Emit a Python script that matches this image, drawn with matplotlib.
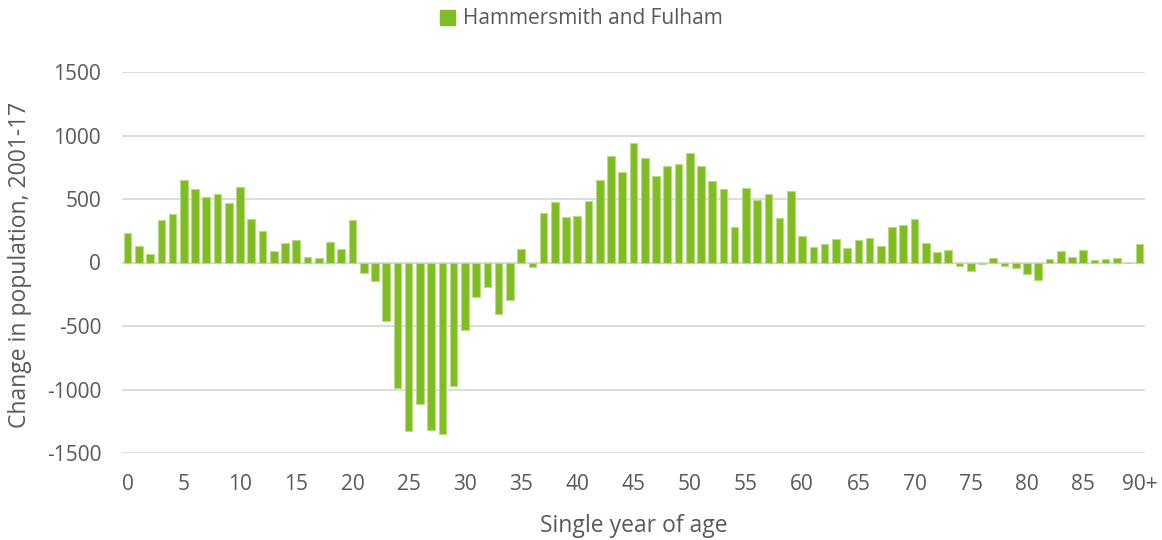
import matplotlib
matplotlib.use("Agg")
import matplotlib.pyplot as plt
from matplotlib.patches import Patch

ages = [str(a) for a in range(90)] + ["90+"]
change = [
    233, 127, 66, 333, 378, 653, 579, 516, 540, 466,
    598, 344, 246, 90, 153, 180, 42, 37, 164, 103,
    333, -84, -147, -463, -992, -1323, -1115, -1320, -1347, -973,
    -531, -274, -195, -402, -292, 103, -34, 391, 473, 360,
    368, 484, 653, 841, 714, 944, 820, 680, 756, 778,
    865, 756, 640, 579, 283, 590, 492, 542, 349, 561,
    211, 121, 142, 186, 117, 178, 189, 130, 277, 293,
    343, 157, 80, 101, -24, -66, -8, 37, -24, -43,
    -93, -141, 27, 90, 43, 101, 16, 24, 37, 0,
    149,
]
series_name = "Hammersmith and Fulham"
yticks = [-1500, -1000, -500, 0, 500, 1000, 1500]
xtick_every = 5

plt.rcParams['font.family'] = ['Open Sans', 'DejaVu Sans']
text_color = '#595959'
bar_color = '#80BC23'
edge_color = '#B8DC80'

fig = plt.figure(figsize=(11.62, 5.40), dpi=100)
ax = fig.add_axes([122/1162, 1 - 453/540, (1145-122)/1162, (453-72)/540])

x = list(range(len(ages)))
ax.bar(x, change, width=0.68, color=bar_color, edgecolor=edge_color, linewidth=0.8, zorder=3)

ax.set_xlim(-0.5, len(ages) - 0.5)
ax.set_ylim(-1500, 1500)
ax.set_yticks(yticks)
ax.set_yticklabels([str(v) for v in yticks])
tick_pos = [i for i in x if i % xtick_every == 0]
ax.set_xticks(tick_pos)
ax.set_xticklabels([ages[i] for i in tick_pos])

ax.grid(axis='y', color='#D9D9D9', linewidth=1.3, zorder=0)
ax.set_axisbelow(True)
for s in ax.spines.values():
    s.set_visible(False)
ax.tick_params(axis='both', length=0, labelsize=15, labelcolor=text_color)
ax.tick_params(axis='y', pad=15)
ax.tick_params(axis='x', pad=15)

ax.set_xlabel("Single year of age", fontsize=16.5, color=text_color, labelpad=14)
ax.set_ylabel("Change in population, 2001-17", fontsize=16.5, color=text_color,
              va='center', ha='center')
ax.yaxis.set_label_coords(-0.0995, 0.493)

handles = [Patch(facecolor=bar_color, edgecolor=bar_color, label=series_name)]
fig.legend(handles=handles, loc='center', bbox_to_anchor=(0.5, 1 - 19/540), frameon=False,
           fontsize=15, labelcolor=text_color, handlelength=0.75, handleheight=0.75, handletextpad=0.35)

fig.savefig("out.png", dpi=100)
